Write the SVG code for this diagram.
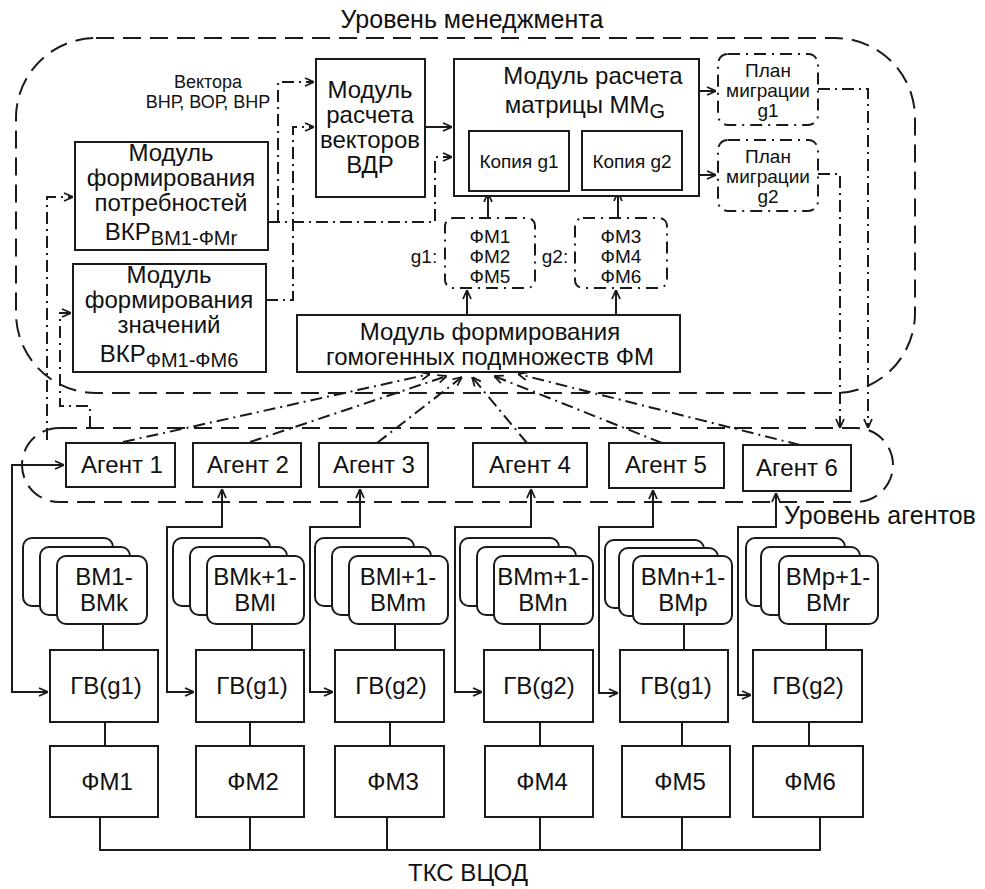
<svg xmlns="http://www.w3.org/2000/svg" width="985" height="889" viewBox="0 0 985 889">
<style>
text{font-family:"Liberation Sans",Arial,sans-serif;fill:#111;text-anchor:middle}
.b{font-size:24px}
.t{font-size:25px}
.s{font-size:19px}
.v{font-size:18px}
.sub{font-size:20px}
.box{fill:#fff;stroke:#1a1a1a;stroke-width:2}
.card{fill:#fff;stroke:#1a1a1a;stroke-width:2}
.lvl{fill:none;stroke:#1a1a1a;stroke-width:2;stroke-dasharray:18 9}
.dd{fill:none;stroke:#1a1a1a;stroke-width:2;stroke-dasharray:12 5 2 5}
.ln{fill:none;stroke:#1a1a1a;stroke-width:2}
.grp{fill:none;stroke:#1a1a1a;stroke-width:2;stroke-dasharray:12 6 2 6}
</style>
<defs>
<marker id="arr" viewBox="0 0 10 10" refX="10" refY="5" markerWidth="10" markerHeight="10" markerUnits="userSpaceOnUse" orient="auto-start-reverse">
<path d="M1,1 L10,5 L1,9" fill="none" stroke="#1a1a1a" stroke-width="1.8"/>
</marker>
</defs>

<g id="management-level">
<rect class="lvl" x="16" y="38" width="899" height="355" rx="80"/>
<text class="t" x="472" y="28">Уровень менеджмента</text>
</g>
<g id="agent-level">
<rect class="lvl" x="22" y="428" width="871" height="74" rx="37"/>
<text class="t" x="880" y="524">Уровень агентов</text>
</g>

<g id="connectors">
<path class="dd" d="M268,222 H435 V157 H452" marker-end="url(#arr)"/>
<path class="dd" d="M278,222 V82 H314" marker-end="url(#arr)"/>
<path class="dd" d="M266,300 H293 V127 H314" marker-end="url(#arr)"/>
<path class="ln" d="M425,127 H452" marker-end="url(#arr)"/>
<path class="ln" d="M488,218 V193" marker-end="url(#arr)"/>
<path class="ln" d="M618,218 V192" marker-end="url(#arr)"/>
<path class="ln" d="M467,315 V290" marker-end="url(#arr)"/>
<path class="ln" d="M616,315 V290" marker-end="url(#arr)"/>
<path class="ln" d="M699,91 H716" marker-end="url(#arr)"/>
<path class="ln" d="M699,175 H716" marker-end="url(#arr)"/>
<path class="dd" d="M818,89 H868 V428" marker-end="url(#arr)"/>
<path class="dd" d="M818,174 H840 V428" marker-end="url(#arr)"/>
<path class="dd" d="M47,440 V197 H73" marker-end="url(#arr)"/>
<path class="dd" d="M90,428 V406 H60 V313 H71" marker-end="url(#arr)"/>
<path class="dd" d="M123,442 L430,374" marker-end="url(#arr)"/>
<path class="dd" d="M250,442 L447,376" marker-end="url(#arr)"/>
<path class="dd" d="M377,443 L462,377" marker-end="url(#arr)"/>
<path class="dd" d="M527,443 L472,377" marker-end="url(#arr)"/>
<path class="dd" d="M662,443 L494,376" marker-end="url(#arr)"/>
<path class="dd" d="M800,445 L518,374" marker-end="url(#arr)"/>
<path class="ln" d="M64,465 H12 V692 H48" marker-start="url(#arr)" marker-end="url(#arr)"/>
<path class="ln" d="M222,489 V527 H167 V692 H194" marker-start="url(#arr)" marker-end="url(#arr)"/>
<path class="ln" d="M360,489 V527 H310 V692 H333" marker-start="url(#arr)" marker-end="url(#arr)"/>
<path class="ln" d="M531,489 V527 H455 V692 H482" marker-start="url(#arr)" marker-end="url(#arr)"/>
<path class="ln" d="M653,490 V527 H599 V693 H618" marker-start="url(#arr)" marker-end="url(#arr)"/>
<path class="ln" d="M776,493 V527 H738 V695 H751" marker-start="url(#arr)" marker-end="url(#arr)"/>
<path class="ln" d="M103,624 V650 M252,624 V650 M395,624 V650 M540,624 V650 M684,624 V650 M826,624 V650"/>
<path class="ln" d="M105,722 V746 M250,722 V746 M390,722 V746 M540,722 V746 M682,722 V746 M809,722 V746"/>
<path class="ln" d="M100,817 V850 H820 V817 M250,817 V850 M387,817 V850 M540,817 V850 M682,817 V850"/>
</g>

<g id="vectors-label">
<text class="v" x="208" y="88">Вектора</text>
<text class="v" x="208" y="108">ВНР, ВОР, ВНР</text>
</g>

<g id="vdr-module">
<rect class="box" x="316" y="59" width="109" height="138"/>
<text class="b" x="370" y="98">Модуль</text>
<text class="b" x="370" y="123">расчета</text>
<text class="b" x="370" y="148">векторов</text>
<text class="b" x="370" y="173">ВДР</text>
</g>

<g id="mm-module">
<rect class="box" x="454" y="59" width="245" height="137"/>
<text class="b" x="593" y="84">Модуль расчета</text>
<text class="b" x="585" y="113">матрицы ММ<tspan class="sub" dy="5">G</tspan></text>
</g>
<g id="copy-g1">
<rect class="box" x="469" y="131" width="100" height="60"/>
<text class="s" x="519" y="168">Копия g1</text>
</g>
<g id="copy-g2">
<rect class="box" x="582" y="131" width="100" height="59"/>
<text class="s" x="632" y="168">Копия g2</text>
</g>

<g id="plan-g1">
<rect class="grp" x="718" y="54" width="100" height="71" rx="10"/>
<text class="s" x="768" y="77">План</text>
<text class="s" x="768" y="97">миграции</text>
<text class="s" x="768" y="117">g1</text>
</g>
<g id="plan-g2">
<rect class="grp" x="718" y="140" width="100" height="71" rx="10"/>
<text class="s" x="768" y="163">План</text>
<text class="s" x="768" y="183">миграции</text>
<text class="s" x="768" y="203">g2</text>
</g>

<g id="needs-module">
<rect class="box" x="75" y="142" width="193" height="108"/>
<text class="b" x="171" y="161">Модуль</text>
<text class="b" x="171" y="186">формирования</text>
<text class="b" x="171" y="211">потребностей</text>
<text class="b" x="171" y="240">ВКР<tspan class="sub" dy="5">ВМ1-ФМr</tspan></text>
</g>

<g id="values-module">
<rect class="box" x="73" y="264" width="193" height="108"/>
<text class="b" x="169" y="283">Модуль</text>
<text class="b" x="169" y="308">формирования</text>
<text class="b" x="169" y="333">значений</text>
<text class="b" x="169" y="362">ВКР<tspan class="sub" dy="5">ФМ1-ФМ6</tspan></text>
</g>

<g id="homogeneous-module">
<rect class="box" x="297" y="315" width="383" height="57"/>
<text class="b" x="490" y="340">Модуль формирования</text>
<text class="b" x="490" y="365">гомогенных подмножеств ФМ</text>
</g>

<g id="group-g1">
<rect class="grp" x="445" y="218" width="90" height="70" rx="8"/>
<text class="s" x="490" y="243">ФМ1</text>
<text class="s" x="490" y="263">ФМ2</text>
<text class="s" x="490" y="283">ФМ5</text>
<text class="s" x="424" y="263">g1:</text>
</g>
<g id="group-g2">
<rect class="grp" x="575" y="218" width="92" height="70" rx="8"/>
<text class="s" x="621" y="243">ФМ3</text>
<text class="s" x="621" y="263">ФМ4</text>
<text class="s" x="621" y="283">ФМ6</text>
<text class="s" x="555" y="263">g2:</text>
</g>

<g id="agent-1"><rect class="box" x="66" y="443" width="109" height="44"/><text class="b" x="122" y="473">Агент 1</text></g>
<g id="agent-2"><rect class="box" x="193" y="443" width="108" height="44"/><text class="b" x="248" y="473">Агент 2</text></g>
<g id="agent-3"><rect class="box" x="319" y="443" width="109" height="44"/><text class="b" x="374" y="473">Агент 3</text></g>
<g id="agent-4"><rect class="box" x="473" y="443" width="114" height="44"/><text class="b" x="530" y="473">Агент 4</text></g>
<g id="agent-5"><rect class="box" x="609" y="443" width="115" height="45"/><text class="b" x="666" y="473">Агент 5</text></g>
<g id="agent-6"><rect class="box" x="743" y="445" width="108" height="46"/><text class="b" x="797" y="476">Агент 6</text></g>

<g id="vm-1">
<rect class="card" x="23" y="538" width="90" height="68" rx="9"/>
<rect class="card" x="40" y="547" width="90" height="68" rx="9"/>
<rect class="card" x="57" y="556" width="90" height="68" rx="9"/>
<text class="b" x="104" y="585">ВМ1-</text><text class="b" x="104" y="611">ВМk</text>
</g>
<g id="vm-2">
<rect class="card" x="173" y="538" width="97" height="68" rx="9"/>
<rect class="card" x="190" y="547" width="97" height="68" rx="9"/>
<rect class="card" x="207" y="556" width="97" height="68" rx="9"/>
<text class="b" x="255" y="585">ВМk+1-</text><text class="b" x="255" y="611">ВМl</text>
</g>
<g id="vm-3">
<rect class="card" x="315" y="538" width="99" height="68" rx="9"/>
<rect class="card" x="332" y="547" width="99" height="68" rx="9"/>
<rect class="card" x="349" y="556" width="99" height="68" rx="9"/>
<text class="b" x="398" y="585">ВМl+1-</text><text class="b" x="398" y="611">ВМm</text>
</g>
<g id="vm-4">
<rect class="card" x="460" y="538" width="99" height="68" rx="9"/>
<rect class="card" x="477" y="547" width="99" height="68" rx="9"/>
<rect class="card" x="494" y="556" width="99" height="68" rx="9"/>
<text class="b" x="543" y="585">ВМm+1-</text><text class="b" x="543" y="611">ВМn</text>
</g>
<g id="vm-5">
<rect class="card" x="605" y="540" width="99" height="68" rx="9"/>
<rect class="card" x="619" y="548" width="99" height="68" rx="9"/>
<rect class="card" x="633" y="556" width="99" height="68" rx="9"/>
<text class="b" x="683" y="585">ВМn+1-</text><text class="b" x="683" y="611">ВМp</text>
</g>
<g id="vm-6">
<rect class="card" x="746" y="538" width="99" height="68" rx="9"/>
<rect class="card" x="761" y="547" width="99" height="68" rx="9"/>
<rect class="card" x="779" y="556" width="99" height="68" rx="9"/>
<text class="b" x="828" y="585">ВМp+1-</text><text class="b" x="828" y="611">ВМr</text>
</g>

<g id="gv-1"><rect class="box" x="50" y="650" width="108" height="72"/><text class="b" x="106" y="694">ГВ(g1)</text></g>
<g id="gv-2"><rect class="box" x="196" y="650" width="108" height="72"/><text class="b" x="252" y="694">ГВ(g1)</text></g>
<g id="gv-3"><rect class="box" x="335" y="650" width="109" height="72"/><text class="b" x="391" y="694">ГВ(g2)</text></g>
<g id="gv-4"><rect class="box" x="484" y="650" width="109" height="72"/><text class="b" x="539" y="694">ГВ(g2)</text></g>
<g id="gv-5"><rect class="box" x="620" y="650" width="108" height="72"/><text class="b" x="676" y="694">ГВ(g1)</text></g>
<g id="gv-6"><rect class="box" x="753" y="650" width="109" height="72"/><text class="b" x="808" y="694">ГВ(g2)</text></g>

<g id="fm-1"><rect class="box" x="50" y="746" width="108" height="71"/><text class="b" x="107" y="790">ФМ1</text></g>
<g id="fm-2"><rect class="box" x="196" y="746" width="108" height="71"/><text class="b" x="253" y="790">ФМ2</text></g>
<g id="fm-3"><rect class="box" x="335" y="746" width="109" height="71"/><text class="b" x="393" y="790">ФМ3</text></g>
<g id="fm-4"><rect class="box" x="485" y="746" width="108" height="71"/><text class="b" x="542" y="790">ФМ4</text></g>
<g id="fm-5"><rect class="box" x="622" y="746" width="108" height="71"/><text class="b" x="680" y="790">ФМ5</text></g>
<g id="fm-6"><rect class="box" x="753" y="746" width="110" height="71"/><text class="b" x="810" y="790">ФМ6</text></g>

<g id="bus-label"><text class="b" x="468" y="881">ТКС ВЦОД</text></g>
</svg>
